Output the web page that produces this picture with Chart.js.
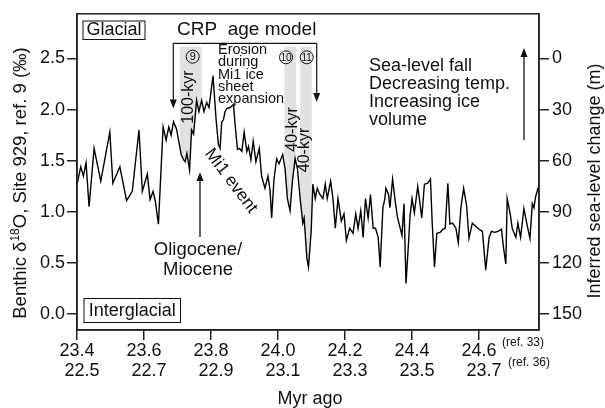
<!DOCTYPE html>
<html>
<head>
<meta charset="utf-8">
<script src="https://cdn.jsdelivr.net/npm/chart.js@4.4.1/dist/chart.umd.min.js"></script>
<style>
  html, body { margin: 0; padding: 0; background: #fff; }
  #wrap { width: 605px; height: 408px; }
</style>
</head>
<body>
<div id="wrap"><canvas id="chart" width="605" height="408"></canvas></div>
<script>
// Site 929 benthic d18O record (ages on the ref. 33 scale, Myr)
const ages = [23.401, 23.411, 23.419, 23.427, 23.436, 23.451, 23.471, 23.498, 23.507, 23.528, 23.548, 23.565, 23.585, 23.595, 23.610, 23.618, 23.627, 23.634, 23.643, 23.657,
  23.666, 23.674, 23.681, 23.688, 23.697, 23.711, 23.718, 23.723, 23.728, 23.736, 23.742, 23.748, 23.757, 23.764, 23.772, 23.779, 23.787, 23.794, 23.806, 23.815,
  23.822, 23.827, 23.832, 23.837, 23.842, 23.847, 23.857, 23.867, 23.872, 23.879, 23.885, 23.892, 23.899, 23.907, 23.912, 23.919, 23.926, 23.934, 23.944, 23.951,
  23.961, 23.970, 23.976, 23.981, 23.988, 23.996, 24.003, 24.014, 24.021, 24.028, 24.036, 24.043, 24.051, 24.058, 24.066, 24.074, 24.078, 24.086, 24.091, 24.099,
  24.104, 24.111, 24.117, 24.125, 24.134, 24.141, 24.147, 24.157, 24.164, 24.171, 24.179, 24.189, 24.197, 24.204, 24.214, 24.224, 24.232, 24.239, 24.247, 24.254,
  24.261, 24.269, 24.276, 24.284, 24.291, 24.299, 24.305, 24.313, 24.319, 24.322, 24.330, 24.334, 24.342, 24.350, 24.357, 24.370, 24.376, 24.382, 24.390, 24.394,
  24.400, 24.407, 24.417, 24.422, 24.429, 24.437, 24.447, 24.455, 24.460, 24.467, 24.474, 24.484, 24.492, 24.499, 24.507, 24.513, 24.521, 24.531, 24.538, 24.546,
  24.554, 24.563, 24.570, 24.580, 24.590, 24.600, 24.610, 24.620, 24.630, 24.637, 24.647, 24.657, 24.667, 24.673, 24.680, 24.684, 24.693, 24.699, 24.710, 24.716,
  24.724, 24.734, 24.743, 24.752, 24.759, 24.764, 24.769, 24.776, 24.779];
const d18O = [1.28, 1.44, 1.35, 1.48, 1.05, 1.62, 1.30, 1.78, 1.28, 1.44, 1.11, 1.20, 1.80, 1.20, 1.37, 1.12, 1.20, 1.10, 0.88, 1.83,
  1.70, 1.83, 1.75, 1.88, 1.81, 1.56, 1.51, 1.49, 1.57, 1.41, 1.80, 1.76, 2.09, 1.98, 2.09, 1.98, 2.07, 2.02, 2.33, 1.91,
  1.66, 1.62, 1.88, 1.90, 1.98, 2.01, 2.02, 2.05, 1.85, 1.61, 1.62, 1.59, 1.78, 1.59, 1.64, 1.51, 1.69, 1.49, 1.62, 1.35,
  1.23, 1.35, 1.22, 0.94, 1.32, 1.52, 1.47, 1.56, 1.42, 1.13, 1.01, 1.30, 1.52, 1.42, 1.13, 0.89, 0.94, 0.55, 0.46, 0.81,
  1.27, 1.13, 1.23, 1.17, 1.13, 1.27, 1.13, 1.30, 1.13, 0.84, 1.13, 0.91, 0.98, 0.72, 0.84, 0.79, 0.98, 0.84, 1.01, 0.75,
  1.13, 0.94, 1.17, 0.84, 0.84, 0.75, 0.46, 1.04, 1.13, 1.23, 1.17, 1.04, 1.32, 1.10, 0.94, 0.77, 1.08, 0.30, 0.72, 0.96,
  1.13, 0.99, 1.25, 1.13, 0.94, 1.27, 1.28, 1.32, 0.91, 0.46, 0.79, 0.80, 0.83, 0.84, 1.28, 0.88, 0.89, 0.84, 0.70, 1.04,
  1.23, 1.06, 0.74, 0.89, 0.86, 0.83, 0.81, 0.43, 0.75, 0.81, 0.80, 0.81, 0.83, 0.65, 0.49, 1.13, 0.98, 0.84, 0.75, 0.89,
  0.75, 1.03, 0.88, 0.74, 1.08, 1.04, 1.15, 1.23, 1.25];

const d18OTicks = [0, 0.5, 1.0, 1.5, 2.0, 2.5];
const seaLevelTicks = [0, 30, 60, 90, 120, 150];
const ageTicks = [23.4, 23.6, 23.8, 24.0, 24.2, 24.4, 24.6];
const ageLabelsRef33 = ['23.4', '23.6', '23.8', '24.0', '24.2', '24.4', '24.6'];
const ageLabelsRef36 = ['22.5', '22.7', '22.9', '23.1', '23.3', '23.5', '23.7'];
const cycleBands = [[23.707, 23.772], [24.019, 24.054], [24.066, 24.101]];
const cycleNames = ['9', '10', '11'];

const FONT = "'Liberation Sans', Arial, Helvetica, sans-serif";
const INK = '#111';
const AXIS = '#222';
const yMin = -0.155, yMax = 2.936;
// sea level (m) = (2.5 - d18O) * 60
const toSea = v => (2.5 - v) * 60;

function txt(ctx, s, x, y, size, align, rot) {
  ctx.save();
  ctx.translate(x, y);
  if (rot) ctx.rotate(rot);
  ctx.font = size + 'px ' + FONT;
  ctx.fillStyle = INK;
  ctx.textAlign = align || 'center';
  ctx.textBaseline = 'middle';
  ctx.fillText(s, 0, 0);
  ctx.restore();
}

function arrowDown(ctx, x, y0, y1) {
  ctx.beginPath(); ctx.moveTo(x, y0); ctx.lineTo(x, y1 - 6); ctx.stroke();
  ctx.beginPath(); ctx.moveTo(x - 3.5, y1 - 9); ctx.lineTo(x + 3.5, y1 - 9); ctx.lineTo(x, y1); ctx.closePath(); ctx.fill();
}
function arrowUp(ctx, x, y0, y1) {
  ctx.beginPath(); ctx.moveTo(x, y0); ctx.lineTo(x, y1 + 6); ctx.stroke();
  ctx.beginPath(); ctx.moveTo(x - 3.5, y1 + 9); ctx.lineTo(x + 3.5, y1 + 9); ctx.lineTo(x, y1); ctx.closePath(); ctx.fill();
}

const bandPlugin = {
  id: 'bands',
  beforeDatasetsDraw(chart) {
    const { ctx, chartArea, scales } = chart;
    const pts = chart.getDatasetMeta(0).data;
    const yAt = px => {
      for (let i = 1; i < pts.length; i++) {
        if (pts[i].x >= px) {
          const a = pts[i - 1], b = pts[i];
          return a.y + (px - a.x) / (b.x - a.x) * (b.y - a.y);
        }
      }
      return pts[pts.length - 1].y;
    };
    const top = chartArea.top + 33;
    ctx.save();
    ctx.fillStyle = '#e2e2e2';
    cycleBands.forEach(([a, b]) => {
      const x0 = scales.x.getPixelForValue(a), x1 = scales.x.getPixelForValue(b);
      ctx.beginPath();
      ctx.moveTo(x0, top);
      ctx.lineTo(x1, top);
      ctx.lineTo(x1, yAt(x1));
      for (let i = pts.length - 1; i >= 0; i--) {
        if (pts[i].x > x0 && pts[i].x < x1) ctx.lineTo(pts[i].x, pts[i].y);
      }
      ctx.lineTo(x0, yAt(x0));
      ctx.closePath();
      ctx.fill();
    });
    ctx.restore();
  }
};

const notesPlugin = {
  id: 'notes',
  afterDraw(chart) {
    const { ctx, chartArea, scales } = chart;
    ctx.save();
    ctx.strokeStyle = AXIS;
    ctx.lineWidth = 1.5;
    ctx.strokeRect(chartArea.left, chartArea.top, chartArea.right - chartArea.left, chartArea.bottom - chartArea.top);

    // boxed labels
    ctx.strokeStyle = INK;
    ctx.lineWidth = 1;
    ctx.strokeRect(83, 21, 62, 18.5);
    txt(ctx, 'Glacial', 114, 30.5, 18);
    ctx.strokeRect(84, 298.5, 96.5, 24);
    txt(ctx, 'Interglacial', 132.3, 310.8, 18);

    // CRP age model bracket
    txt(ctx, 'CRP  age model', 177, 30, 19, 'left');
    ctx.fillStyle = INK;
    ctx.lineWidth = 1.2;
    ctx.beginPath();
    ctx.moveTo(173.3, 43.3); ctx.lineTo(316.7, 43.3); ctx.stroke();
    arrowDown(ctx, 173.3, 43.3, 108.5);
    arrowDown(ctx, 316.7, 43.3, 102);

    // cycle circles
    const circ = [[192.7, 56.7], [286, 57.3], [306.7, 57.3]];
    circ.forEach(([cx, cy], i) => {
      ctx.beginPath(); ctx.arc(cx, cy, 6.5, 0, Math.PI * 2);
      ctx.lineWidth = 1; ctx.stroke();
      txt(ctx, cycleNames[i], cx, cy + 0.5, cycleNames[i].length > 1 ? 10 : 11);
    });
    txt(ctx, '100-kyr', 188.5, 97, 16, 'center', -Math.PI / 2);
    txt(ctx, '40-kyr', 292.5, 129.5, 16, 'center', -Math.PI / 2);
    txt(ctx, '40-kyr', 304.5, 150, 16, 'center', -Math.PI / 2);

    ['Erosion', 'during', 'Mi1 ice', 'sheet', 'expansion'].forEach((s, i) => {
      txt(ctx, s, 218, 50 + i * 12.3, 14.5, 'left');
    });
    txt(ctx, 'Mi1 event', 231, 181, 17.5, 'center', 53 * Math.PI / 180);

    ['Sea-level fall', 'Decreasing temp.', 'Increasing ice', 'volume'].forEach((s, i) => {
      txt(ctx, s, 369, 66 + i * 18, 18, 'left');
    });
    ctx.lineWidth = 1.3;
    arrowUp(ctx, 524, 140, 48);

    arrowUp(ctx, 200, 237, 172);
    txt(ctx, 'Oligocene/', 198, 250, 18.5);
    txt(ctx, 'Miocene', 198, 270, 18.5);

    // age model refs next to the last tick
    const x246 = scales.x.getPixelForValue(24.6);
    txt(ctx, '(ref. 33)', x246 + 23, 342.5, 12, 'left');
    txt(ctx, '(ref. 36)', x246 + 29, 363, 12, 'left');

    // axis titles
    txt(ctx, 'Myr ago', 310, 399, 18);
    txt(ctx, 'Inferred sea-level change (m)', 595, 181, 18, 'center', -Math.PI / 2);

    // left title with superscript 18
    ctx.save();
    ctx.translate(21, 183);
    ctx.rotate(-Math.PI / 2);
    ctx.fillStyle = INK;
    ctx.textBaseline = 'middle';
    const parts = [['Benthic \u03b4', 18.5, 0], ['18', 12, -5], ['O, Site 929, ref. 9 (\u2030)', 18.5, 0]];
    let total = 0;
    parts.forEach(p => { ctx.font = p[1] + 'px ' + FONT; total += ctx.measureText(p[0]).width; });
    let cx = -total / 2;
    parts.forEach(p => {
      ctx.font = p[1] + 'px ' + FONT;
      ctx.textAlign = 'left';
      ctx.fillText(p[0], cx, p[2]);
      cx += ctx.measureText(p[0]).width;
    });
    ctx.restore();

    ctx.restore();
  }
};

new Chart(document.getElementById('chart'), {
  type: 'line',
  data: {
    datasets: [{
      data: ages.map((a, i) => ({ x: a, y: d18O[i] })),
      borderColor: '#000',
      borderWidth: 1.4,
      pointRadius: 0,
      tension: 0,
      fill: false,
      xAxisID: 'x',
      yAxisID: 'y'
    }]
  },
  options: {
    responsive: false,
    animation: false,
    devicePixelRatio: 1,
    layout: { padding: { top: 11, left: 0, right: 0, bottom: 0 } },
    plugins: { legend: { display: false }, tooltip: { enabled: false } },
    scales: {
      x: {
        type: 'linear',
        min: 23.4,
        max: 24.779,
        afterBuildTicks: s => { s.ticks = ageTicks.map(v => ({ value: v })); },
        afterFit: s => { s.height = 78; },
        grid: { drawOnChartArea: false, tickLength: 10, color: AXIS, lineWidth: 1.5 },
        border: { color: AXIS, width: 1.5 },
        ticks: {
          autoSkip: false, maxRotation: 0, minRotation: 0, padding: 1, color: INK,
          font: { family: FONT, size: 18, lineHeight: 1.1 },
          callback: (v, i) => [ageLabelsRef33[i], '  ' + ageLabelsRef36[i]]
        }
      },
      y: {
        position: 'left',
        min: yMin,
        max: yMax,
        afterBuildTicks: s => { s.ticks = d18OTicks.map(v => ({ value: v })); },
        afterFit: s => { s.width = 77; },
        grid: { drawOnChartArea: false, tickLength: 10, color: AXIS, lineWidth: 1.5 },
        border: { color: AXIS, width: 1.5 },
        ticks: { padding: 2, color: INK, font: { family: FONT, size: 18 }, callback: v => v.toFixed(1) }
      },
      y2: {
        position: 'right',
        reverse: true,
        min: toSea(yMax),
        max: toSea(yMin),
        afterBuildTicks: s => { s.ticks = seaLevelTicks.map(v => ({ value: v })); },
        afterFit: s => { s.width = 66; },
        grid: { drawOnChartArea: false, tickLength: 10, color: AXIS, lineWidth: 1.5 },
        border: { color: AXIS, width: 1.5 },
        ticks: { padding: 3, color: INK, font: { family: FONT, size: 18 }, callback: v => String(v) }
      }
    }
  },
  plugins: [bandPlugin, notesPlugin]
});
</script>
</body>
</html>
